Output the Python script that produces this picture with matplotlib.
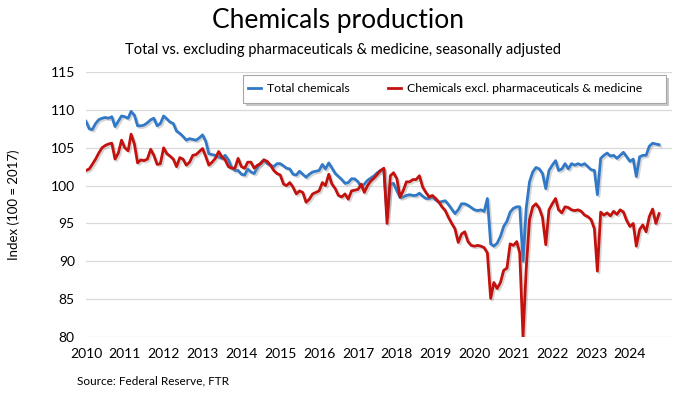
import matplotlib
matplotlib.use("Agg")
import matplotlib.pyplot as plt
import matplotlib.dates as mdates
import matplotlib.patheffects as pe
from matplotlib.patches import Rectangle
import pandas as pd
import numpy as np

plt.rcParams['font.family'] = ['Lato', 'DejaVu Sans']

start_month = "2010-01-01"

total = [
    108.5, 107.5, 107.4, 108.2, 108.7, 108.9, 109.0, 108.9, 109.1, 107.8,
    108.5, 109.2, 109.1, 108.9, 109.8, 109.3, 107.9, 107.9, 108.0, 108.3,
    108.7, 108.9, 107.9, 108.2, 109.2, 108.8, 108.4, 108.2, 107.2, 106.9,
    106.5, 106.0, 106.2, 106.1, 106.0, 106.3, 106.7, 105.8, 104.2, 104.1,
    104.0, 103.8, 103.6, 104.0, 103.4, 102.4, 102.0, 102.0, 101.5, 101.4,
    102.2, 101.8, 101.6, 102.4, 103.0, 103.4, 102.9, 102.7, 102.5, 102.9,
    102.9, 102.6, 102.3, 102.2, 101.5, 101.4, 101.9, 101.5, 101.1, 101.5,
    101.8, 101.9, 102.0, 102.8, 102.2, 103.0, 102.3, 101.6, 101.2, 100.8,
    100.3, 100.4, 100.9, 100.9, 100.5, 99.8, 100.2, 100.7, 101.0, 101.3,
    101.7, 102.0, 102.1, 96.0, 100.2, 100.3, 99.3, 98.4, 98.5, 98.7,
    98.8, 98.7, 98.7, 99.0, 98.6, 98.3, 98.3, 98.5, 98.1, 97.8,
    97.9, 98.0, 97.5, 96.9, 96.3, 96.8, 97.6, 97.6, 97.4, 97.1,
    96.8, 96.7, 96.8, 96.6, 98.3, 92.3, 92.0, 92.4, 93.3, 94.6,
    95.3, 96.5, 97.0, 97.2, 97.2, 90.0, 97.0, 100.5, 101.8, 102.4,
    102.2, 101.6, 99.6, 102.0, 102.7, 103.3, 102.0, 102.2, 102.9, 102.2,
    102.9, 102.7, 102.9, 102.7, 102.9, 102.5, 102.1, 102.0, 98.8, 103.6,
    104.0, 104.3, 103.9, 104.0, 103.6, 104.0, 104.4, 103.8, 103.2, 103.5,
    101.2, 103.8, 104.0, 104.0, 105.2, 105.6, 105.5, 105.4,
]

excl_pharma = [
    102.0, 102.2, 102.8, 103.5, 104.3, 105.0, 105.3, 105.5, 105.6, 103.5,
    104.3, 106.0, 105.0, 104.6, 106.8, 105.5, 103.0, 103.4, 103.3, 103.5,
    104.8, 104.0, 102.8, 102.9, 105.0, 104.2, 103.9, 103.5, 102.5, 103.7,
    103.5, 102.7, 103.1, 104.0, 104.1, 104.5, 104.9, 103.8, 102.7, 103.1,
    103.6, 104.5, 103.8, 103.4, 102.5, 102.3, 102.3, 103.6, 102.5, 102.3,
    103.1, 103.1, 102.3, 102.7, 102.9, 103.4, 103.2, 102.7, 102.0, 101.6,
    101.4, 100.2, 100.0, 100.4, 99.8, 98.9, 99.3, 99.1, 97.8, 98.2,
    98.9, 99.1, 99.3, 100.4, 100.0, 101.5, 100.2, 99.6, 98.7, 98.5,
    98.9, 98.2, 99.3, 99.4, 99.5, 100.2, 99.1, 100.0, 100.6, 101.0,
    101.5, 102.0, 102.3, 95.0, 101.3, 101.7, 100.9, 98.5, 99.3, 100.5,
    100.5, 100.8, 100.8, 101.3, 99.8, 99.1, 98.5, 98.7, 98.3, 97.8,
    97.2, 96.7, 95.8, 95.0, 94.3, 92.5, 93.6, 93.9, 92.6, 92.1,
    92.0, 92.1, 92.0, 91.8, 91.1, 85.1, 87.2, 86.4, 87.2, 88.8,
    89.1, 92.3, 92.1, 92.6, 91.1, 80.0, 89.0, 95.5, 97.2, 97.6,
    97.0, 95.8, 92.2, 96.8, 97.6, 98.3, 96.8, 96.4, 97.2, 97.1,
    96.8, 96.7, 96.8, 96.6, 96.1, 95.9, 95.5, 94.3, 88.7, 96.5,
    96.1, 96.4, 96.0, 96.6, 96.2, 96.8, 96.5, 95.4, 94.6, 95.0,
    92.0, 94.2, 94.8, 93.9, 95.9, 96.9, 95.0, 96.3,
]

series_names = ["Total chemicals", "Chemicals excl. pharmaceuticals & medicine"]
y_ticks = [80, 85, 90, 95, 100, 105, 110, 115]
x_tick_years = list(range(2010, 2025))

dates = pd.date_range(start_month, periods=len(total), freq="MS")

fig = plt.figure(figsize=(6.84, 3.96), dpi=100)
ax = fig.add_axes([0.1257, 0.149, 0.857, 0.669])

shadow = [pe.SimpleLineShadow(offset=(1.2, -1.2), shadow_color='#888888', alpha=0.35), pe.Normal()]
ax.plot(dates, total, color='#3179C6', lw=2.0, label=series_names[0], path_effects=shadow, zorder=3)
ax.plot(dates, excl_pharma, color='#C3110D', lw=2.0, label=series_names[1], path_effects=shadow, zorder=4)

ax.set_ylim(80, 115)
ax.set_yticks(y_ticks)
ax.set_xlim(pd.Timestamp("2010-01-01"), pd.Timestamp("2025-02-01"))
ax.set_xticks([pd.Timestamp(f"{y}-01-01") for y in x_tick_years])
ax.xaxis.set_major_formatter(mdates.DateFormatter("%Y"))
ax.grid(axis='y', color='#D9D9D9', lw=0.9)
ax.set_axisbelow(True)
for s in ax.spines.values():
    s.set_visible(False)
ax.tick_params(axis='both', length=0, labelsize=10, colors='black')
ax.tick_params(axis='x', pad=8)
ax.tick_params(axis='y', pad=8)

ax.set_ylabel("Index (100 = 2017)", fontsize=9.5, labelpad=22)

fig.text(0.494, 0.948, "Chemicals production", ha='center', va='center', fontsize=19)
fig.text(0.502, 0.873, "Total vs. excluding pharmaceuticals & medicine, seasonally adjusted",
         ha='center', va='center', fontsize=10.5)
fig.text(0.113, 0.037, "Source: Federal Reserve, FTR", ha='left', va='center', fontsize=8.5)

# legend box with drop shadow
bx0, bx1 = 243 / 684, 666 / 684
by0, by1 = 1 - 103 / 396, 1 - 75 / 396
sh = Rectangle((bx0 + 2.5 / 684, by0 - 2.5 / 396), bx1 - bx0, by1 - by0, transform=fig.transFigure,
               facecolor='#9a9a9a', edgecolor='none', alpha=0.55, zorder=5)
box = Rectangle((bx0, by0), bx1 - bx0, by1 - by0, transform=fig.transFigure,
                facecolor='white', edgecolor='#A6A6A6', lw=0.8, zorder=6)
fig.add_artist(sh)
fig.add_artist(box)

handles, labels = ax.get_legend_handles_labels()
leg = fig.legend(handles, labels, loc='center left', bbox_to_anchor=(248 / 684, (by0 + by1) / 2),
                 ncol=2, frameon=False, fontsize=8.8, handlelength=1.1,
                 handletextpad=0.45, columnspacing=3.1, borderpad=0, borderaxespad=0)
leg.set_zorder(7)
for line in leg.get_lines():
    line.set_path_effects([])
    line.set_linewidth(2.0)

fig.savefig("out.png", dpi=100)
